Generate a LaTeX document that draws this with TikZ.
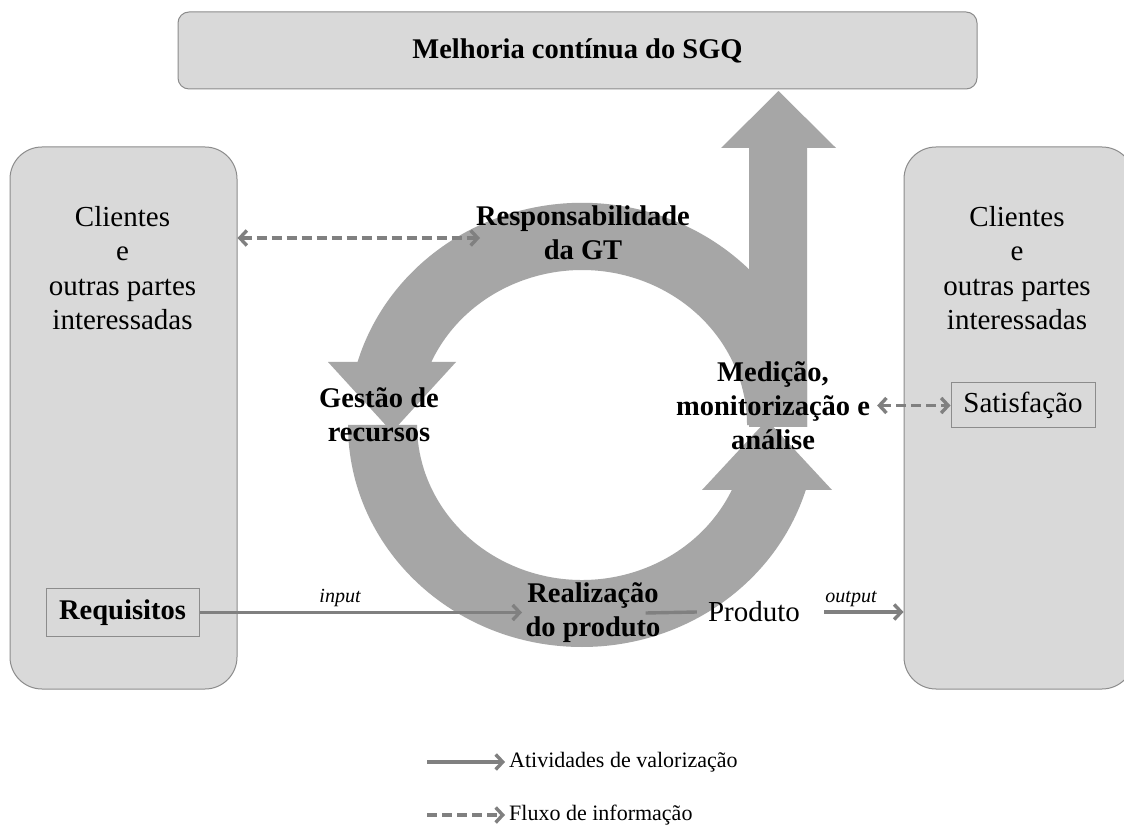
\documentclass[tikz,border=0pt]{standalone}
\usepackage{fontspec}
\setmainfont{Liberation Serif}
\usetikzlibrary{arrows.meta}
\definecolor{boxfill}{HTML}{D9D9D9}
\definecolor{boxline}{HTML}{8C8C8C}
\definecolor{ringgray}{HTML}{A6A6A6}
\definecolor{linkgray}{HTML}{808080}
\pgfdeclarelayer{back}
\pgfdeclarelayer{mid}
\pgfsetlayers{back,mid,main}
\begin{document}
\begin{tikzpicture}[x=1pt,y=1pt,
  panel/.style={draw=boxline, fill=boxfill, line width=1pt, rounded corners=32pt, inner sep=0pt},
  tagbox/.style={draw=boxline, fill=boxfill, line width=1pt, inner sep=0pt},
  reg/.style={font=\fontsize{29}{34.5}\selectfont, align=center, inner sep=0pt},
  bld/.style={font=\fontsize{28.5}{34}\selectfont\bfseries, align=center, inner sep=0pt},
  ital/.style={font=\fontsize{20}{24}\selectfont\itshape, inner sep=0pt},
  legtext/.style={font=\fontsize{22}{26}\selectfont, inner sep=0pt, anchor=west},
  flow/.style={draw=linkgray, line width=3.4pt},
  info/.style={draw=linkgray, line width=3.4pt, dash pattern=on 10pt off 5pt},
  headR/.style={-{Straight Barb[length=7pt,width=15pt]}},
  headLR/.style={{Straight Barb[length=7pt,width=15pt]}-{Straight Barb[length=7pt,width=15pt]}},
]
\useasboundingbox (0,0) rectangle (1124,825);

\begin{pgfonlayer}{back}
\fill[white] (0,0) rectangle (1124,825);
% cycle of the quality system: upper arc ending at the left
\fill[ringgray] (807,398) -- (807,461)
  arc[start angle=15.9, end angle=163.5, x radius=234, y radius=222]
  -- (328,463) -- (392,393) -- (456,463) -- (431.3,463)
  arc[start angle=156, end angle=0, x radius=165, y radius=155] -- cycle;
% lower arc ending at the right
\fill[ringgray] (417,400) -- (348,400)
  arc[start angle=180, end angle=343, x radius=234, y radius=222]
  -- (832,335) -- (767,405) -- (702,335) -- (731.8,335)
  arc[start angle=335.2, end angle=180, x radius=165, y radius=155] -- cycle;
% upward arrow towards continual improvement
\fill[ringgray] (749,398) -- (749,677) -- (721,677) -- (778.5,734)
  -- (836,677) -- (807,677) -- (807,398) -- cycle;
% panels
\begin{scope}
\clip (0,0) rectangle (1124,825);
\node[panel, rounded corners=11pt, minimum width=799pt, minimum height=77pt,
      font=\fontsize{28.5}{34}\selectfont\bfseries] (top) at (577.5,774.5)
      {Melhoria contínua do SGQ};
\node[panel, minimum width=227pt, minimum height=542pt] (lbox) at (123.5,407) {};
\node[panel, minimum width=230pt, minimum height=542pt] (rbox) at (1019,407) {};
\end{scope}
\end{pgfonlayer}

\node[reg] (lcl) at (122.5,557) {Clientes\\e\\outras partes\\interessadas};
\node[reg] (rcl) at (1017,557) {Clientes\\e\\outras partes\\interessadas};
\node[tagbox, minimum width=153pt, minimum height=47pt,
      font=\fontsize{28.5}{34}\selectfont\bfseries] (req) at (122.5,212.5) {Requisitos};
\node[tagbox, minimum width=144pt, minimum height=45pt,
      font=\fontsize{29}{34}\selectfont] (sat) at (1023,419.5) {Satisfação};

% process labels
\node[bld] (resp) at (583,592) {Responsabilidade\\da GT};
\node[bld] (gest) at (379,410) {Gestão de\\recursos};
\node[bld] (med) at (773,419) {Medição,\\monitorização e\\análise};
\node[bld] (real) at (593,212) {Realização\\do produto};
\node[reg] (prod) at (754,213) {Produto};
\node[ital] (inlbl) at (340,227) {input};
\node[ital] (outlbl) at (851,226) {output};

% legend
\coordinate (la) at (427,63);
\coordinate (lb) at (505,63);
\coordinate (da) at (427,10);
\coordinate (db) at (505,10);
\node[legtext] (lt1) at (509,63) {Atividades de valorização};
\node[legtext] (lt2) at (509,10) {Fluxo de informação};

\coordinate (respin) at (480,587);
\coordinate (inp) at (522,0);

\begin{pgfonlayer}{mid}
\draw[info, headLR] (lbox.east |- respin) -- (respin);
\draw[info, headLR] ([xshift=7pt]med.east |- sat.west) -- (sat.west);
\draw[flow, headR] (req.east) -- (req.east -| inp);
\draw[flow] ([xshift=-15pt]real.east) -- ([xshift=-11pt]prod.west);
\draw[flow, headR] ([xshift=24pt]prod.east) -- (prod.east -| rbox.west);
\draw[flow, headR] (la) -- (lb);
\draw[info, headR] (da) -- (db);
\end{pgfonlayer}
\end{tikzpicture}
\end{document}
